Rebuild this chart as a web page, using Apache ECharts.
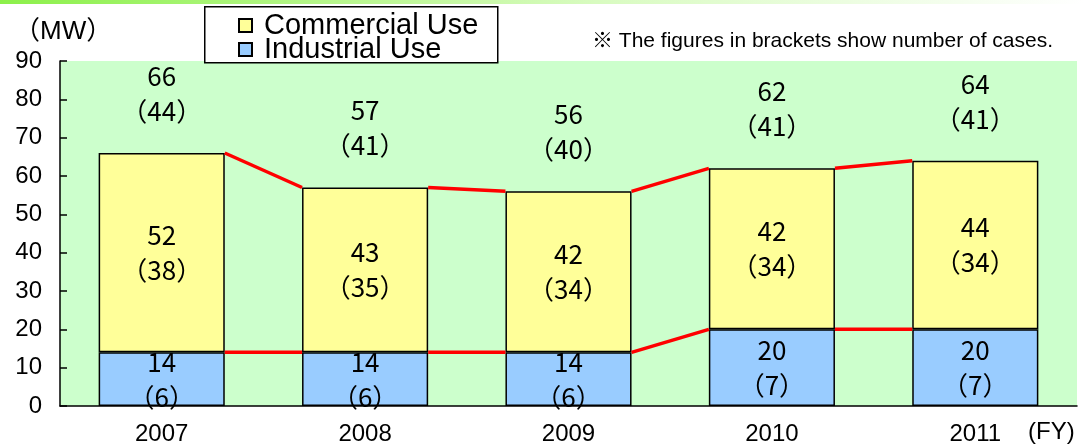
<!DOCTYPE html>
<html>
<head>
    <meta charset="UTF-8">
    <title>Capacity by use</title>
    <script src="https://cdn.jsdelivr.net/npm/echarts@6/dist/echarts.min.js"></script>
    <style>
        html, body { margin: 0; padding: 0; background: #fff; }
        #topbar {
            position: absolute; left: 0; top: 0; width: 1084px; height: 4px;
            background: linear-gradient(to right, #8cf04a, #d8fbc0 55%, #ffffff 100%);
        }
        #echart { width: 1084px; height: 446px; }
    </style>
</head>
<body>
    <div id="topbar"></div>
    <div id="echart"></div>
    <script type="text/javascript">
        // 年度
        var years = ['2007', '2008', '2009', '2010', '2011'];
        // 産業用 (MW) と件数
        var industrial = [14, 14, 14, 20, 20];
        var industrialCases = [6, 6, 6, 7, 7];
        // 業務用 (MW) と件数
        var commercial = [52, 43, 42, 42, 44];
        var commercialCases = [38, 35, 34, 34, 34];
        // 合計
        var total = [66, 57, 56, 62, 64];
        var totalCases = [44, 41, 40, 41, 41];
        var yTicks = [0, 10, 20, 30, 40, 50, 60, 70, 80, 90];

        var labelFont = '"Noto Sans CJK JP", sans-serif';
        var barRatio = 0.62;

        function twoLine(vals, cases) {
            return function (p) { return vals[p.dataIndex] + '\n（' + cases[p.dataIndex] + '）'; };
        }

        // 隣のバーの上端どうしを赤線で結ぶ
        function connector(vals) {
            return function (params, api) {
                var i = api.value(0);
                var a = api.coord([i, vals[i]]);
                var b = api.coord([i + 1, vals[i + 1]]);
                var hw = api.size([1, 0])[0] * barRatio / 2;
                return {
                    type: 'line',
                    shape: { x1: a[0] + hw, y1: a[1], x2: b[0] - hw, y2: b[1] },
                    style: { stroke: '#ff0000', lineWidth: 3.5 }
                };
            };
        }
        var linkIdx = years.slice(0, years.length - 1).map(function (y, i) { return [i]; });

        var chart = echarts.init(document.getElementById('echart'));
        chart.setOption({
            animation: false,
            grid: { left: 60, right: 7, top: 61, bottom: 40, show: true, backgroundColor: '#ccffcc', borderWidth: 0 },
            legend: {
                data: ['Commercial Use', 'Industrial Use'],
                orient: 'vertical', left: 238, top: 11, padding: 0, itemGap: -5, z: 20,
                icon: 'rect', itemWidth: 13, itemHeight: 13,
                textStyle: { fontFamily: 'Liberation Sans', fontSize: 29, color: '#000', padding: [0, 0, 0, 7] }
            },
            graphic: [
                { type: 'rect', left: 204, top: 6, z: 15, shape: { width: 293, height: 56 },
                  style: { fill: '#fff', stroke: '#000', lineWidth: 1.5 } },
                { type: 'text', left: 14, top: 19,
                  style: { text: '（MW）', font: '26px "Liberation Sans", "Noto Sans CJK JP"', fill: '#000' } },
                { type: 'text', left: 1028, top: 420,
                  style: { text: '(FY)', font: '24px "Liberation Sans"', fill: '#000' } },
                { type: 'text', left: 592, top: 31,
                  style: { text: '※ The figures in brackets show number of cases.', font: '21px "Liberation Sans", "Noto Sans CJK JP"', fill: '#000' } }
            ],
            xAxis: {
                type: 'category', data: years,
                axisLine: { lineStyle: { color: '#000', width: 1.5 } },
                axisTick: { inside: true, length: 7, lineStyle: { color: '#000', width: 1.5 } },
                axisLabel: { fontFamily: 'Liberation Sans', fontSize: 24, color: '#000', margin: 16 }
            },
            yAxis: {
                type: 'value', min: yTicks[0], max: yTicks[yTicks.length - 1], interval: 10,
                axisLine: { show: true, lineStyle: { color: '#000', width: 1.5 } },
                axisTick: { show: true, inside: true, length: 7, lineStyle: { color: '#000', width: 1.5 } },
                axisLabel: { fontFamily: 'Liberation Sans', fontSize: 24, color: '#000', margin: 18 },
                splitLine: { show: false }
            },
            series: [
                {
                    name: 'Industrial Use', type: 'bar', stack: 'a', data: industrial,
                    barWidth: (barRatio * 100) + '%',
                    itemStyle: { color: '#99ccff', borderColor: '#000', borderWidth: 1.5 },
                    label: { show: true, position: 'inside', formatter: twoLine(industrial, industrialCases),
                             fontFamily: labelFont, fontSize: 26, lineHeight: 35, color: '#000' }
                },
                {
                    name: 'Commercial Use', type: 'bar', stack: 'a', data: commercial,
                    itemStyle: { color: '#ffff99', borderColor: '#000', borderWidth: 1.5 },
                    label: { show: true, position: 'inside', formatter: twoLine(commercial, commercialCases),
                             fontFamily: labelFont, fontSize: 26, lineHeight: 35, color: '#000' }
                },
                {
                    name: 'total', type: 'scatter', data: total, symbolSize: 1,
                    itemStyle: { color: 'rgba(0,0,0,0)', opacity: 1 },
                    label: { show: true, position: 'top', distance: 24, formatter: twoLine(total, totalCases),
                             fontFamily: labelFont, fontSize: 26, lineHeight: 35, color: '#000' }
                },
                { type: 'custom', data: linkIdx, renderItem: connector(industrial), z: 5 },
                { type: 'custom', data: linkIdx, renderItem: connector(total), z: 5 }
            ]
        });
    </script>
</body>
</html>
